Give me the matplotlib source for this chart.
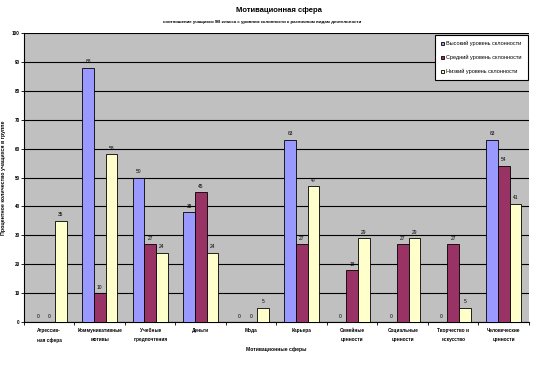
import matplotlib.pyplot as plt
import numpy as np

plt.rcParams['font.family'] = ['Liberation Sans', 'DejaVu Sans']

# категории и значения (проценты)
kategorii = ['Агрессив-\nная сфера', 'Коммуникативные\nмотивы', 'Учебные\nпредпочтения',
             'Деньги', 'Мода', 'Карьера', 'Семейные\nценности', 'Социальные\nценности',
             'Творчество и\nискусство', 'Человеческие\nценности']
vysokiy = [0, 88, 50, 38, 0, 63, 0, 0, 0, 63]
sredniy = [0, 10, 27, 45, 0, 27, 18, 27, 27, 54]
nizkiy = [35, 58, 24, 24, 5, 47, 29, 29, 5, 41]
serii = ['Высокий уровень склонности', 'Средний уровень склонности', 'Низкий уровень склонности']
cveta = ['#9999FF', '#993366', '#FFFFCC']

fig = plt.figure(figsize=(5.58, 3.71), dpi=100)
ax = fig.add_axes([0.043, 0.132, 0.905, 0.779])
ax.set_facecolor('#C0C0C0')

x = np.arange(len(kategorii))
w = 0.23
for i, (vals, name, c) in enumerate(zip([vysokiy, sredniy, nizkiy], serii, cveta)):
    pos = x + (i - 1) * w
    ax.bar(pos, vals, w, color=c, edgecolor='black', linewidth=0.6, label=name, zorder=3)
    for p, v in zip(pos, vals):
        ax.text(p, v + 1.2, str(v), ha='center', va='bottom', fontsize=3.5, zorder=4)

ax.set_xlim(-0.5, len(kategorii) - 0.5)
ax.set_ylim(0, 100)
ax.set_yticks(range(0, 101, 10))
ax.yaxis.grid(True, color='black', linewidth=0.8, zorder=0)
ax.set_xticks(x)
ax.set_xticklabels(kategorii, fontsize=3.4, fontweight='bold', linespacing=2.2)
ax.set_xticks(np.arange(-0.5, len(kategorii), 1), minor=True)
ax.tick_params(axis='x', which='major', length=0, pad=4)
ax.tick_params(axis='x', which='minor', length=2.5, width=0.6)
ax.tick_params(axis='y', labelsize=3.3, length=2, width=0.6, pad=1)
for lbl in ax.get_yticklabels():
    lbl.set_fontweight('bold')
for s in ['top', 'right']:
    ax.spines[s].set_visible(False)
ax.spines['left'].set_linewidth(0.8)
ax.spines['bottom'].set_linewidth(0.8)

ax.set_xlabel('Мотивационные сферы', fontsize=3.6, fontweight='bold', labelpad=3)
ax.set_ylabel('Процентное количество учащихся в группе', fontsize=3.8, fontweight='bold', labelpad=4)

fig.text(0.5, 0.972, 'Мотивационная сфера', ha='center', va='center', fontsize=5.5, fontweight='bold')
fig.text(0.47, 0.94, 'соотношение учащихся 9В класса с уровнем склонности к различным видам деятельности',
         ha='center', va='center', fontsize=3.2, fontweight='bold')

leg = ax.legend(loc='upper right', bbox_to_anchor=(1.003, 1.003), fontsize=4, frameon=True,
                fancybox=False, edgecolor='black', framealpha=1, handlelength=0.45, handleheight=0.6,
                labelspacing=1.6, borderpad=1.1, handletextpad=0.4)
leg.get_frame().set_linewidth(0.8)

fig.savefig('out.png', dpi=100)
